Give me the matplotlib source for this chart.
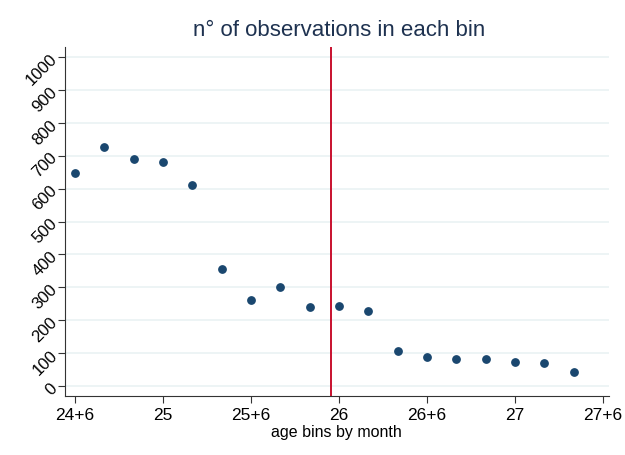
import matplotlib
matplotlib.use('Agg')
import matplotlib.pyplot as plt

# age bins (years, 2-month bins) and counts
ages = [24.5, 24 + 8/12, 24 + 10/12, 25.0, 25 + 2/12, 25 + 4/12, 25.5, 25 + 8/12, 25 + 10/12,
        26.0, 26 + 2/12, 26 + 4/12, 26.5, 26 + 8/12, 26 + 10/12, 27.0, 27 + 2/12, 27 + 4/12]
counts = [648, 725, 690, 682, 610, 355, 262, 300, 241, 243, 228, 108, 88, 83, 83, 73, 70, 43]
cutoff = 25.953

xticks = [24.5, 25, 25.5, 26, 26.5, 27, 27.5]
xticklabels = ['24+6', '25', '25+6', '26', '26+6', '27', '27+6']
yticks = list(range(0, 1001, 100))

plt.rcParams['font.family'] = ['Liberation Sans', 'DejaVu Sans']

fig = plt.figure(figsize=(6.25, 4.55), dpi=100)
ax = fig.add_axes([64.5/625, 1 - 396/455, (609 - 64.5)/625, (396 - 47)/455])

for y in yticks:
    ax.axhline(y, color='#eaf2f3', lw=1.2, zorder=0)

ax.scatter(ages, counts, s=28, color='#1a476f', zorder=3)
ax.axvline(cutoff, color='#c8102e', lw=1.4, zorder=2)

ax.set_xlim(24.44, 27.535)
ax.set_ylim(-30, 1030)
ax.set_xticks(xticks)
ax.set_xticklabels(xticklabels, fontsize=12.5)
ax.set_yticks(yticks)
ax.set_yticklabels([str(v) for v in yticks], fontsize=12, rotation=45, va='center', ha='right',
                   rotation_mode='anchor')
ax.tick_params(axis='both', colors='#333333', length=5, width=0.8, labelcolor='black')
ax.tick_params(axis='x', pad=4)
ax.tick_params(axis='y', pad=2)

for side in ['top', 'right']:
    ax.spines[side].set_visible(False)
for side in ['left', 'bottom']:
    ax.spines[side].set_color('#333333')
    ax.spines[side].set_linewidth(0.8)

ax.set_xlabel('age bins by month', fontsize=11.5, labelpad=1)
fig.text(339/625, 1 - 31/455, 'n° of observations in each bin', fontsize=16,
         color='#1e3250', ha='center', va='center')

fig.savefig('out.png', dpi=100)
